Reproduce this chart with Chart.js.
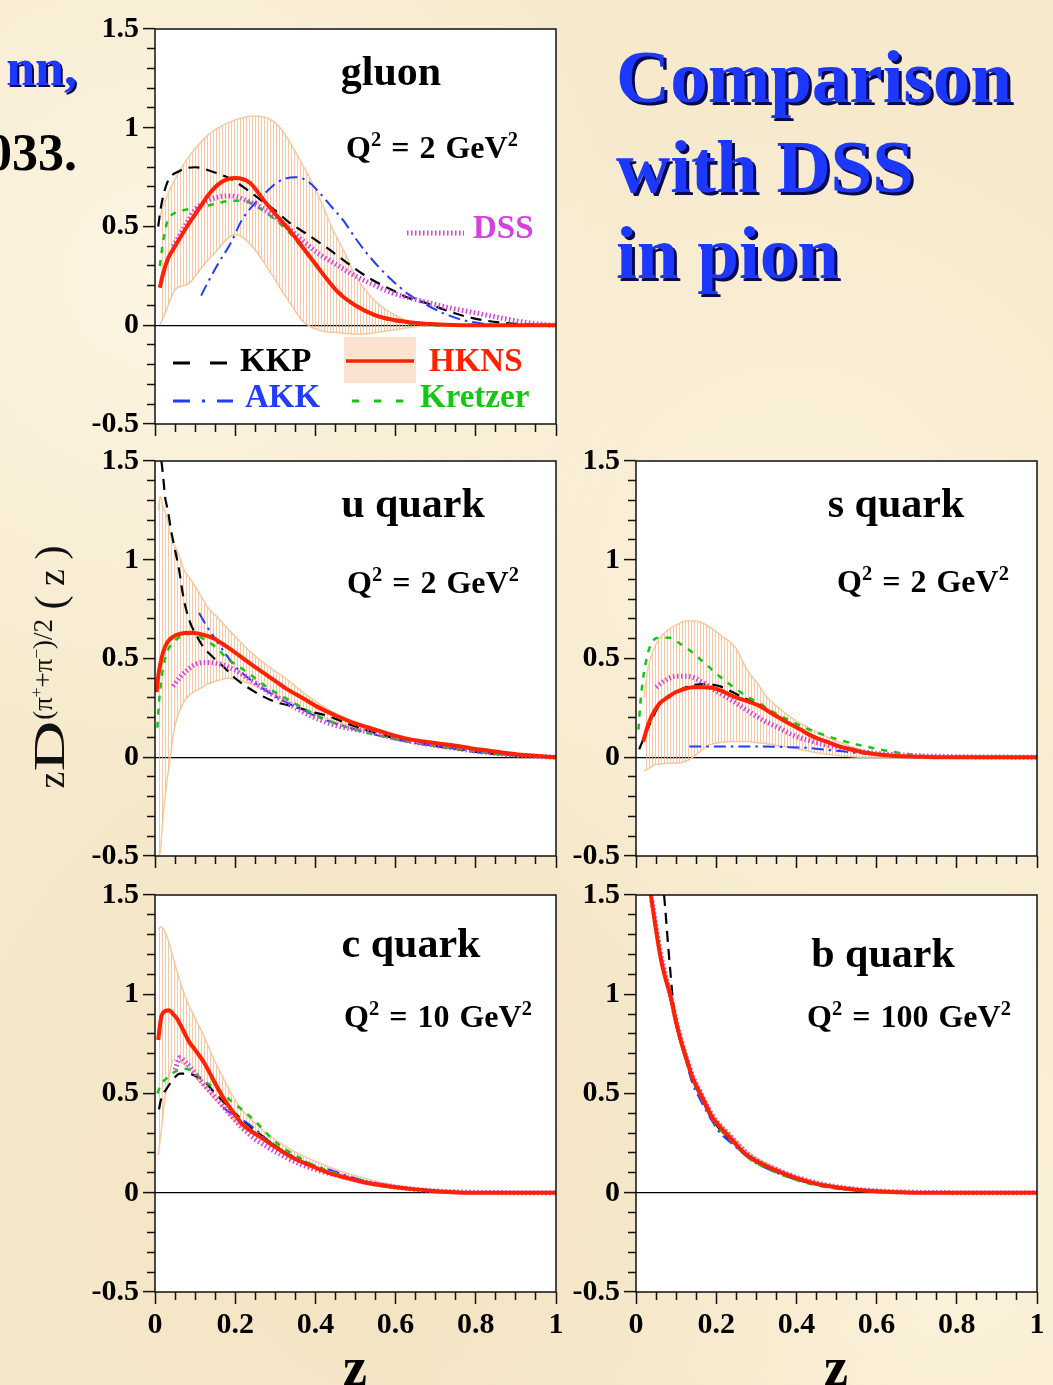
<!DOCTYPE html>
<html lang="en">
<head>
<meta charset="utf-8">
<script src="https://cdn.jsdelivr.net/npm/chart.js@4.4.1/dist/chart.umd.min.js"></script>
<style>
  body { margin: 0; }
  #page {
    position: relative; width: 1053px; height: 1385px; overflow: hidden;
    background-color: #f6e9cc;
    background-image:
      radial-gradient(circle at 15% 20%, rgba(255,250,236,0.7), transparent 35%),
      radial-gradient(circle at 75% 40%, rgba(255,248,230,0.6), transparent 40%),
      radial-gradient(circle at 40% 85%, rgba(238,220,182,0.5), transparent 40%),
      radial-gradient(circle at 90% 90%, rgba(255,247,228,0.6), transparent 35%);
    font-family: "Liberation Serif", "Times New Roman", serif;
  }
  canvas { position: absolute; }
  .t { position: absolute; line-height: 1; white-space: nowrap; }
  .big { font-size: 75px; font-weight: bold; color: #1c38ff; text-shadow: 3px 3px 0 #0a0a4c; }
  .panel { font-size: 42px; font-weight: bold; width: 300px; text-align: center; }
  .q { font-size: 32px; font-weight: bold; width: 300px; text-align: center; word-spacing: 2px; }
  .leg { font-size: 33px; font-weight: bold; }
  .zlab { font-size: 54px; font-weight: bold; width: 100px; text-align: center; }
  sup { font-size: 0.64em; vertical-align: 0.6em; line-height: 0; }
</style>
</head>
<body>
<div id="page">
  <canvas id="gluon" width="523" height="439" style="left:45px;top:7px"></canvas>
  <canvas id="uquark" width="523" height="439" style="left:45px;top:439px"></canvas>
  <canvas id="squark" width="523" height="439" style="left:526px;top:439px"></canvas>
  <canvas id="cquark" width="523" height="475" style="left:45px;top:873px"></canvas>
  <canvas id="bquark" width="523" height="475" style="left:526px;top:873px"></canvas>

  <!-- slide text -->
  <div class="t" style="right:976px;top:42px;font-size:52px;font-weight:bold;color:#1c38ff;text-shadow:2px 2px 0 #0a0a4c">nn,</div>
  <div class="t" style="right:976px;top:127px;font-size:52px;font-weight:bold;color:#000">033.</div>
  <div class="t big" style="left:616px;top:39px">Comparison</div>
  <div class="t big" style="left:616px;top:129px">with DSS</div>
  <div class="t big" style="left:616px;top:215px">in pion</div>

  <!-- panel labels -->
  <div class="t panel" style="left:241px;top:50px">gluon</div>
  <div class="t q" style="left:282px;top:131px">Q<sup>2</sup> = 2 GeV<sup>2</sup></div>
  <div class="t panel" style="left:263px;top:482px">u quark</div>
  <div class="t q" style="left:283px;top:566px">Q<sup>2</sup> = 2 GeV<sup>2</sup></div>
  <div class="t panel" style="left:746px;top:482px">s quark</div>
  <div class="t q" style="left:773px;top:565px">Q<sup>2</sup> = 2 GeV<sup>2</sup></div>
  <div class="t panel" style="left:261px;top:922px">c quark</div>
  <div class="t q" style="left:288px;top:1000px">Q<sup>2</sup> = 10 GeV<sup>2</sup></div>
  <div class="t panel" style="left:733px;top:932px">b quark</div>
  <div class="t q" style="left:759px;top:1000px">Q<sup>2</sup> = 100 GeV<sup>2</sup></div>

  <!-- legend (gluon panel) -->
  <svg width="1053" height="1385" style="position:absolute;left:0;top:0;pointer-events:none">
    <rect x="344" y="337" width="72" height="46" fill="#fbe3cf"/>
    <line x1="346" y1="361" x2="414" y2="361" stroke="#ff2200" stroke-width="3.5"/>
    <line x1="173" y1="363" x2="228" y2="363" stroke="#000" stroke-width="3" stroke-dasharray="17 20"/>
    <line x1="173" y1="401" x2="233" y2="401" stroke="#1f3cff" stroke-width="3" stroke-dasharray="17 12 3 12 17"/>
    <line x1="352" y1="401" x2="403" y2="401" stroke="#12c812" stroke-width="3" stroke-dasharray="7 15"/>
    <line x1="407" y1="233" x2="464" y2="233" stroke="#d63fe0" stroke-width="5" stroke-dasharray="1.5 2.5"/>
  </svg>
  <div class="t leg" style="left:240px;top:344px;color:#000">KKP</div>
  <div class="t leg" style="left:429px;top:344px;color:#ff2200">HKNS</div>
  <div class="t leg" style="left:245px;top:380px;color:#1f3cff">AKK</div>
  <div class="t leg" style="left:420px;top:380px;color:#12c812">Kretzer</div>
  <div class="t leg" style="left:473px;top:211px;color:#d63fe0">DSS</div>

  <!-- axis titles -->
  <div class="t" style="left:-110px;top:642px;width:320px;height:50px;line-height:50px;text-align:center;transform:rotate(-90deg);font-size:38px;color:#111">z<span style="display:inline-block;font-size:44px;transform:scaleX(1.6);margin:0 10px">D</span><sup style="font-size:27px;vertical-align:0.45em">(π<sup>+</sup>+π<sup>−</sup>)/2</sup> <span style="font-size:42px">(</span> z <span style="font-size:42px">)</span></div>
  <div class="t zlab" style="left:305px;top:1340px">z</div>
  <div class="t zlab" style="left:786px;top:1340px">z</div>
</div>

<script>
// values: [z, zD(z)] pairs per curve, bands are [z, low, high]
const xLabelValues = [0, 0.2, 0.4, 0.6, 0.8, 1];
const yLabelValues = [-0.5, 0, 0.5, 1, 1.5];

// ---- gluon, Q^2 = 2 GeV^2
const gluonHKNS = [[0.012,0.19],[0.02,0.26],[0.033,0.34],[0.05,0.40],[0.083,0.51],[0.11,0.59],[0.133,0.66],[0.166,0.725],[0.2,0.745],[0.237,0.72],[0.274,0.625],[0.31,0.54],[0.344,0.46],[0.37,0.39],[0.4,0.31],[0.43,0.23],[0.46,0.16],[0.5,0.1],[0.55,0.05],[0.6,0.025],[0.65,0.012],[0.7,0.005],[0.78,0],[1,0]];
const gluonKKP = [[0.008,0.5],[0.015,0.6],[0.03,0.72],[0.06,0.78],[0.1,0.8],[0.14,0.78],[0.19,0.74],[0.227,0.69],[0.26,0.64],[0.3,0.58],[0.335,0.52],[0.38,0.46],[0.43,0.39],[0.47,0.33],[0.51,0.27],[0.55,0.22],[0.59,0.18],[0.63,0.14],[0.68,0.11],[0.72,0.08],[0.77,0.047],[0.82,0.025],[0.87,0.012],[0.93,0.004],[1,0]];
const gluonAKK = [[0.115,0.15],[0.13,0.21],[0.157,0.31],[0.19,0.42],[0.216,0.53],[0.25,0.62],[0.28,0.68],[0.31,0.73],[0.35,0.75],[0.38,0.73],[0.415,0.66],[0.44,0.6],[0.47,0.53],[0.5,0.44],[0.53,0.36],[0.56,0.29],[0.59,0.23],[0.63,0.16],[0.68,0.1],[0.72,0.06],[0.77,0.025],[0.82,0.008],[0.87,0],[1,0]];
const gluonKretzer = [[0.012,0.3],[0.02,0.42],[0.03,0.52],[0.05,0.57],[0.077,0.585],[0.12,0.6],[0.16,0.62],[0.19,0.63],[0.22,0.63],[0.255,0.6],[0.29,0.55],[0.325,0.49],[0.36,0.41],[0.4,0.31],[0.43,0.23],[0.47,0.15],[0.51,0.09],[0.55,0.047],[0.6,0.02],[0.65,0.005],[0.7,0],[1,0]];
const gluonDSS = [[0.045,0.4],[0.06,0.45],[0.08,0.52],[0.1,0.585],[0.13,0.63],[0.16,0.65],[0.19,0.655],[0.23,0.63],[0.27,0.59],[0.305,0.54],[0.34,0.48],[0.37,0.425],[0.41,0.36],[0.45,0.31],[0.49,0.26],[0.54,0.21],[0.59,0.165],[0.64,0.135],[0.68,0.115],[0.73,0.09],[0.78,0.07],[0.83,0.05],[0.88,0.03],[0.93,0.013],[0.97,0.004],[1,0]];
const gluonBand = [[0.012,0.0,0.55],[0.025,0.06,0.63],[0.05,0.18,0.74],[0.083,0.21,0.85],[0.12,0.3,0.94],[0.15,0.37,0.99],[0.2,0.46,1.04],[0.246,0.39,1.06],[0.29,0.26,1.04],[0.316,0.175,0.99],[0.344,0.09,0.9],[0.366,0.025,0.82],[0.39,-0.01,0.73],[0.42,-0.03,0.6],[0.44,-0.035,0.5],[0.47,-0.04,0.38],[0.5,-0.045,0.25],[0.54,-0.04,0.14],[0.575,-0.03,0.08],[0.61,-0.02,0.04],[0.64,-0.01,0.015],[0.68,0,0]];

// ---- u quark, Q^2 = 2 GeV^2
const uHKNS = [[0.004,0.33],[0.008,0.41],[0.013,0.47],[0.02,0.53],[0.03,0.58],[0.045,0.61],[0.063,0.625],[0.09,0.63],[0.12,0.62],[0.148,0.6],[0.175,0.565],[0.2,0.53],[0.24,0.47],[0.283,0.41],[0.325,0.35],[0.368,0.3],[0.41,0.25],[0.452,0.21],[0.5,0.17],[0.537,0.147],[0.58,0.12],[0.62,0.097],[0.66,0.083],[0.706,0.07],[0.75,0.058],[0.79,0.045],[0.83,0.034],[0.875,0.022],[0.93,0.01],[1,0]];
const uKKP = [[0.016,1.5],[0.02,1.43],[0.025,1.32],[0.032,1.25],[0.04,1.15],[0.05,1.05],[0.06,0.95],[0.07,0.82],[0.08,0.73],[0.09,0.67],[0.105,0.61],[0.12,0.56],[0.148,0.5],[0.175,0.45],[0.2,0.4],[0.25,0.33],[0.3,0.28],[0.34,0.26],[0.39,0.23],[0.43,0.21],[0.48,0.17],[0.537,0.13],[0.58,0.105],[0.62,0.085],[0.66,0.07],[0.706,0.055],[0.75,0.042],[0.79,0.03],[0.83,0.02],[0.875,0.012],[0.93,0.005],[1,0]];
const uAKK = [[0.11,0.73],[0.13,0.66],[0.15,0.6],[0.17,0.54],[0.2,0.46],[0.24,0.39],[0.283,0.33],[0.325,0.28],[0.368,0.24],[0.41,0.2],[0.452,0.17],[0.5,0.14],[0.537,0.12],[0.58,0.1],[0.62,0.082],[0.66,0.068],[0.706,0.055],[0.75,0.043],[0.79,0.032],[0.83,0.022],[0.875,0.013],[0.93,0.005],[1,0]];
const uKretzer = [[0.006,0.15],[0.01,0.28],[0.014,0.36],[0.02,0.45],[0.028,0.52],[0.04,0.57],[0.055,0.6],[0.075,0.62],[0.097,0.625],[0.12,0.6],[0.15,0.56],[0.18,0.5],[0.216,0.45],[0.25,0.4],[0.283,0.35],[0.325,0.3],[0.368,0.25],[0.41,0.205],[0.452,0.17],[0.5,0.14],[0.537,0.12],[0.58,0.1],[0.62,0.083],[0.66,0.068],[0.706,0.055],[0.75,0.043],[0.79,0.032],[0.83,0.022],[0.875,0.013],[0.93,0.005],[1,0]];
const uDSS = [[0.045,0.36],[0.06,0.4],[0.08,0.44],[0.1,0.47],[0.13,0.48],[0.165,0.47],[0.2,0.44],[0.24,0.39],[0.283,0.33],[0.325,0.28],[0.368,0.23],[0.41,0.19],[0.452,0.16],[0.5,0.14],[0.537,0.125],[0.58,0.105],[0.62,0.088],[0.66,0.072],[0.706,0.058],[0.75,0.045],[0.79,0.034],[0.83,0.024],[0.875,0.014],[0.93,0.006],[1,0]];
const uBand = [[0.008,-0.5,1.25],[0.013,-0.48,1.32],[0.02,-0.3,1.27],[0.03,-0.12,1.21],[0.038,0.0,1.13],[0.046,0.12,1.08],[0.055,0.2,1.05],[0.072,0.28,0.95],[0.089,0.32,0.9],[0.114,0.35,0.82],[0.131,0.37,0.76],[0.16,0.39,0.7],[0.182,0.4,0.65],[0.21,0.39,0.59],[0.24,0.37,0.53],[0.283,0.33,0.46],[0.325,0.29,0.4],[0.368,0.25,0.33],[0.41,0.21,0.27],[0.452,0.18,0.22],[0.5,0.15,0.18],[0.55,0.125,0.145],[0.62,0.093,0.105],[0.7,0.065,0.075],[0.8,0.037,0.043],[0.9,0.014,0.018],[1,0,0]];

// ---- s quark, Q^2 = 2 GeV^2
const sHKNS = [[0.018,0.08],[0.025,0.13],[0.033,0.18],[0.045,0.23],[0.058,0.27],[0.08,0.305],[0.1,0.33],[0.12,0.345],[0.141,0.355],[0.165,0.355],[0.19,0.352],[0.215,0.335],[0.24,0.31],[0.275,0.285],[0.308,0.26],[0.34,0.22],[0.374,0.18],[0.41,0.14],[0.44,0.105],[0.474,0.08],[0.507,0.055],[0.54,0.038],[0.574,0.022],[0.61,0.013],[0.64,0.008],[0.7,0.003],[0.75,0],[1,0]];
const sKKP = [[0.008,0.04],[0.02,0.1],[0.037,0.18],[0.06,0.27],[0.1,0.33],[0.141,0.365],[0.175,0.37],[0.208,0.36],[0.25,0.32],[0.308,0.26],[0.35,0.21],[0.39,0.165],[0.43,0.12],[0.474,0.08],[0.52,0.05],[0.557,0.03],[0.6,0.018],[0.64,0.008],[0.7,0.003],[0.8,0],[1,0]];
const sAKK = [[0.133,0.055],[0.2,0.055],[0.26,0.055],[0.308,0.055],[0.37,0.052],[0.432,0.047],[0.48,0.037],[0.516,0.03],[0.56,0.02],[0.6,0.013],[0.65,0.005],[0.7,0],[1,0]];
const sKretzer = [[0.006,0.14],[0.012,0.3],[0.02,0.43],[0.03,0.53],[0.042,0.59],[0.06,0.605],[0.083,0.605],[0.11,0.575],[0.141,0.53],[0.175,0.47],[0.208,0.41],[0.24,0.36],[0.275,0.31],[0.31,0.27],[0.341,0.23],[0.38,0.19],[0.424,0.147],[0.466,0.115],[0.507,0.088],[0.55,0.065],[0.59,0.047],[0.625,0.033],[0.657,0.022],[0.69,0.012],[0.72,0.005],[0.8,0],[1,0]];
const sDSS = [[0.05,0.355],[0.07,0.385],[0.1,0.41],[0.12,0.41],[0.141,0.405],[0.165,0.38],[0.19,0.347],[0.225,0.305],[0.258,0.263],[0.29,0.22],[0.324,0.18],[0.36,0.145],[0.39,0.113],[0.43,0.085],[0.474,0.063],[0.52,0.045],[0.557,0.03],[0.6,0.02],[0.65,0.013],[0.7,0.008],[0.8,0.003],[0.9,0.001],[1,0]];
const sBand = [[0.02,-0.07,0.3],[0.03,-0.06,0.45],[0.045,-0.04,0.55],[0.058,-0.035,0.6],[0.08,-0.03,0.645],[0.1,-0.03,0.67],[0.125,-0.02,0.69],[0.141,0.0,0.69],[0.16,0.03,0.685],[0.183,0.063,0.66],[0.21,0.075,0.62],[0.25,0.08,0.55],[0.275,0.08,0.45],[0.308,0.072,0.36],[0.324,0.07,0.31],[0.35,0.06,0.26],[0.39,0.047,0.197],[0.43,0.03,0.15],[0.457,0.02,0.122],[0.49,0.012,0.09],[0.524,0.005,0.063],[0.56,0.0,0.04],[0.6,0,0.022],[0.65,0,0.008],[0.7,0,0]];

// ---- c quark, Q^2 = 10 GeV^2
const cHKNS = [[0.008,0.77],[0.015,0.88],[0.025,0.915],[0.035,0.92],[0.045,0.9],[0.054,0.88],[0.07,0.82],[0.085,0.76],[0.1,0.72],[0.124,0.65],[0.145,0.57],[0.17,0.48],[0.19,0.42],[0.216,0.35],[0.24,0.31],[0.263,0.28],[0.3,0.23],[0.34,0.18],[0.39,0.135],[0.433,0.1],[0.48,0.073],[0.525,0.05],[0.59,0.03],[0.65,0.017],[0.7,0.008],[0.74,0.003],[0.8,0],[1,0]];
const cKKP = [[0.01,0.42],[0.015,0.47],[0.031,0.53],[0.045,0.57],[0.062,0.6],[0.08,0.6],[0.1,0.59],[0.124,0.56],[0.15,0.5],[0.175,0.45],[0.2,0.4],[0.24,0.33],[0.278,0.27],[0.32,0.21],[0.355,0.167],[0.4,0.125],[0.433,0.1],[0.48,0.075],[0.525,0.055],[0.59,0.03],[0.65,0.015],[0.72,0.005],[0.8,0],[1,0]];
const cAKK = [[0.17,0.43],[0.19,0.4],[0.216,0.37],[0.25,0.32],[0.278,0.27],[0.32,0.21],[0.355,0.175],[0.4,0.135],[0.433,0.117],[0.48,0.085],[0.525,0.058],[0.59,0.035],[0.65,0.02],[0.72,0.008],[0.8,0.002],[1,0]];
const cKretzer = [[0.006,0.5],[0.015,0.545],[0.031,0.58],[0.05,0.61],[0.07,0.625],[0.085,0.62],[0.1,0.6],[0.125,0.56],[0.155,0.52],[0.185,0.47],[0.216,0.42],[0.25,0.36],[0.278,0.3],[0.31,0.24],[0.355,0.183],[0.4,0.135],[0.448,0.1],[0.5,0.065],[0.587,0.033],[0.63,0.02],[0.68,0.008],[0.72,0.003],[0.8,0],[1,0]];
const cDSS = [[0.05,0.62],[0.062,0.68],[0.075,0.66],[0.093,0.62],[0.12,0.55],[0.155,0.47],[0.185,0.4],[0.216,0.33],[0.25,0.27],[0.278,0.233],[0.32,0.185],[0.355,0.15],[0.41,0.11],[0.464,0.083],[0.52,0.055],[0.587,0.033],[0.65,0.017],[0.71,0.008],[0.8,0.002],[1,0]];
const cBand = [[0.008,0.19,1.33],[0.015,0.3,1.34],[0.023,0.45,1.32],[0.035,0.58,1.26],[0.046,0.67,1.18],[0.06,0.66,1.08],[0.077,0.64,0.98],[0.1,0.58,0.88],[0.124,0.53,0.78],[0.145,0.48,0.68],[0.17,0.43,0.58],[0.19,0.38,0.5],[0.216,0.33,0.42],[0.25,0.29,0.35],[0.278,0.26,0.3],[0.32,0.2,0.24],[0.355,0.167,0.2],[0.41,0.125,0.15],[0.464,0.092,0.108],[0.52,0.06,0.075],[0.587,0.033,0.042],[0.65,0.016,0.02],[0.74,0.003,0.008],[0.8,0,0]];

// ---- b quark, Q^2 = 100 GeV^2
const bHKNS = [[0.037,1.5],[0.048,1.35],[0.06,1.2],[0.072,1.09],[0.085,1.0],[0.1,0.86],[0.11,0.78],[0.125,0.68],[0.141,0.58],[0.16,0.5],[0.175,0.44],[0.19,0.38],[0.21,0.33],[0.238,0.27],[0.26,0.22],[0.284,0.18],[0.31,0.15],[0.346,0.115],[0.39,0.08],[0.44,0.05],[0.49,0.03],[0.548,0.015],[0.6,0.007],[0.65,0.003],[0.7,0],[1,0]];
const bKKP = [[0.07,1.5],[0.075,1.38],[0.078,1.3],[0.085,1.13],[0.093,0.95],[0.1,0.85],[0.11,0.77],[0.125,0.67],[0.141,0.57],[0.16,0.49],[0.19,0.37],[0.238,0.26],[0.284,0.175],[0.346,0.11],[0.44,0.045],[0.548,0.012],[0.65,0.002],[0.7,0],[1,0]];
const bAKK = [[0.1,0.85],[0.125,0.66],[0.141,0.55],[0.16,0.47],[0.19,0.36],[0.21,0.3],[0.238,0.25],[0.284,0.17],[0.346,0.105],[0.44,0.045],[0.548,0.013],[0.65,0.002],[0.7,0],[1,0]];
const bKretzer = [[0.037,1.5],[0.06,1.2],[0.085,0.99],[0.11,0.77],[0.141,0.57],[0.16,0.49],[0.19,0.37],[0.238,0.26],[0.284,0.17],[0.346,0.105],[0.44,0.042],[0.548,0.012],[0.65,0.002],[0.7,0],[1,0]];
const bDSS = [[0.04,1.47],[0.06,1.22],[0.085,1.0],[0.11,0.79],[0.141,0.59],[0.16,0.51],[0.19,0.39],[0.238,0.28],[0.284,0.185],[0.346,0.12],[0.44,0.055],[0.548,0.018],[0.65,0.005],[0.75,0.001],[1,0]];
const bBand = [[0.037,1.5,1.52],[0.06,1.18,1.23],[0.085,0.97,1.03],[0.11,0.76,0.8],[0.141,0.56,0.6],[0.16,0.48,0.52],[0.19,0.37,0.4],[0.238,0.26,0.29],[0.284,0.17,0.2],[0.346,0.105,0.13],[0.44,0.045,0.058],[0.548,0.012,0.02],[0.65,0.002,0.005],[0.7,0,0]];

// line styles of the five sets
const styles = {
  HKNS:    { color: '#ff2200', width: 4,   dash: [] },
  DSS:     { color: '#d63fe0', width: 5,   dash: [1.5, 2.5] },
  Kretzer: { color: '#12c812', width: 2.5, dash: [6, 7] },
  AKK:     { color: '#1f3cff', width: 2,   dash: [12, 5, 2.5, 5] },
  KKP:     { color: '#000000', width: 2.2, dash: [11, 7] }
};

// vertical hatching for the HKNS uncertainty band
const hatchCanvas = document.createElement('canvas');
hatchCanvas.width = 3; hatchCanvas.height = 3;
const hctx = hatchCanvas.getContext('2d');
hctx.fillStyle = 'rgba(246,176,120,0.7)';
hctx.fillRect(0, 0, 1, 3);
const hatch = hctx.createPattern(hatchCanvas, 'repeat');

function isOneOf(v, list) {
  return list.some(t => Math.abs(t - v) < 1e-6);
}

function curve(pairs, name) {
  const st = styles[name];
  return {
    label: name,
    data: pairs.map(p => ({ x: p[0], y: p[1] })),
    borderColor: st.color,
    borderWidth: st.width,
    borderDash: st.dash,
    borderCapStyle: 'butt',
    pointRadius: 0,
    cubicInterpolationMode: 'monotone',
    fill: false
  };
}

function bandLine(band, col, filled) {
  return {
    label: filled ? 'band hi' : 'band lo',
    data: band.map(p => ({ x: p[0], y: p[col] })),
    borderColor: 'rgba(248,196,152,0.9)',
    borderWidth: 1.5,
    pointRadius: 0,
    cubicInterpolationMode: 'monotone',
    backgroundColor: hatch,
    fill: filled ? '+1' : false
  };
}

// white plot area and black frame box
const framePlugin = {
  id: 'frame',
  beforeDraw(chart) {
    const a = chart.chartArea, ctx = chart.ctx;
    ctx.save();
    ctx.fillStyle = '#ffffff';
    ctx.fillRect(a.left, a.top, a.right - a.left, a.bottom - a.top);
    ctx.restore();
  },
  afterDatasetsDraw(chart) {
    const a = chart.chartArea, ctx = chart.ctx;
    ctx.save();
    ctx.strokeStyle = '#111';
    ctx.lineWidth = 1.5;
    ctx.strokeRect(a.left, a.top, a.right - a.left, a.bottom - a.top);
    ctx.restore();
  }
};

function makePanel(id, hkns, dss, kretzer, akk, kkp, band, showX) {
  const ctx = document.getElementById(id).getContext('2d');
  // first dataset is drawn on top
  const datasets = [
    curve(hkns, 'HKNS'), curve(dss, 'DSS'), curve(kretzer, 'Kretzer'),
    curve(akk, 'AKK'), curve(kkp, 'KKP'),
    bandLine(band, 2, true), bandLine(band, 1, false)
  ];
  return new Chart(ctx, {
    type: 'line',
    data: { datasets: datasets },
    plugins: [framePlugin],
    options: {
      responsive: false,
      animation: false,
      layout: { autoPadding: false, padding: { top: 18, right: 12, bottom: 0, left: 0 } },
      plugins: { legend: { display: false }, tooltip: { enabled: false } },
      scales: {
        x: {
          type: 'linear', min: 0, max: 1,
          border: { display: false },
          grid: {
            drawOnChartArea: false, tickLength: 12, tickColor: '#111', tickWidth: 1.5,
            tickBorderDash: c => isOneOf(c.tick.value, xLabelValues) ? [] : [8, 100]
          },
          ticks: {
            stepSize: 0.05, autoSkip: false, maxRotation: 0, padding: 3,
            color: '#000', font: { family: 'Liberation Serif', weight: 'bold', size: 30 },
            callback: v => (showX && isOneOf(v, xLabelValues)) ? String(v) : ''
          },
          afterFit: scale => { scale.height = showX ? 56 : 20; }
        },
        y: {
          min: -0.5, max: 1.5,
          border: { display: false },
          grid: {
            drawOnChartArea: true, tickLength: 12, tickColor: '#111', tickWidth: 1.5,
            lineWidth: 1.2,
            color: c => (c.tick && Math.abs(c.tick.value) < 1e-9) ? '#000' : 'rgba(0,0,0,0)',
            tickBorderDash: c => isOneOf(c.tick.value, yLabelValues) ? [] : [0, 4, 8, 100]
          },
          ticks: {
            stepSize: 0.1, autoSkip: false, padding: 4,
            color: '#000', font: { family: 'Liberation Serif', weight: 'bold', size: 30 },
            callback: v => isOneOf(v, yLabelValues) ? String(v) : ''
          },
          afterFit: scale => { scale.width = 110; }
        }
      }
    }
  });
}

makePanel('gluon', gluonHKNS, gluonDSS, gluonKretzer, gluonAKK, gluonKKP, gluonBand, false);
makePanel('uquark', uHKNS, uDSS, uKretzer, uAKK, uKKP, uBand, false);
makePanel('squark', sHKNS, sDSS, sKretzer, sAKK, sKKP, sBand, false);
makePanel('cquark', cHKNS, cDSS, cKretzer, cAKK, cKKP, cBand, true);
makePanel('bquark', bHKNS, bDSS, bKretzer, bAKK, bKKP, bBand, true);
</script>
</body>
</html>
